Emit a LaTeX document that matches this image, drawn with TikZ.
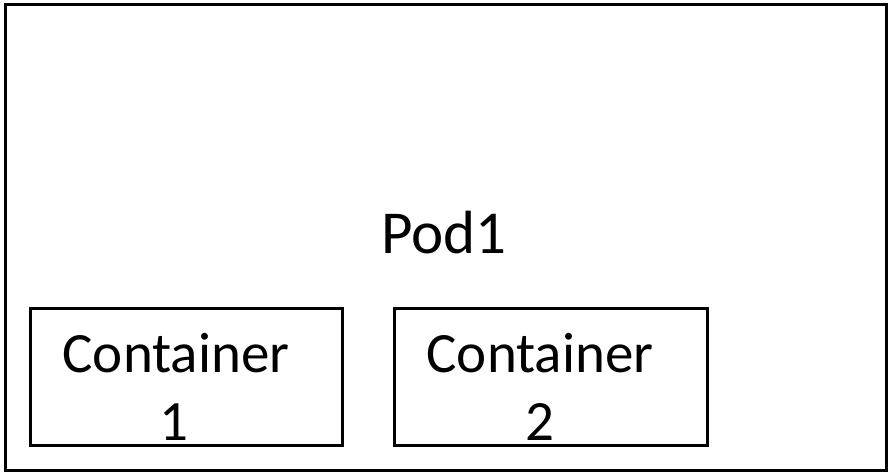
\documentclass[tikz,border=0pt]{standalone}
\usepackage{fontspec}
\setmainfont{Carlito}
\begin{document}
\begin{tikzpicture}[x=1pt,y=-1pt,
  box/.style={draw=black,line width=3pt,inner sep=0pt},
  lbl/.style={inner sep=0pt,anchor=base,font=\fontsize{57}{68}\selectfont}]
\useasboundingbox (0,0) rectangle (888,473);
\node[box,minimum width=880.5pt,minimum height=466pt] (pod) at (445.75,237.5) {};
\node[lbl,font=\fontsize{61}{73}\selectfont] (podt) at (444,253) {Pod1};
\node[box,minimum width=312pt,minimum height=137pt] (c1) at (186.5,377) {};
\node[box,minimum width=313pt,minimum height=137pt] (c2) at (551,377) {};
\node[lbl] (c1a) at (176,372) {Container};
\node[lbl] (c1b) at (174,440) {1};
\node[lbl] (c2a) at (540,372) {Container};
\node[lbl] (c2b) at (540,440) {2};
\end{tikzpicture}
\end{document}
